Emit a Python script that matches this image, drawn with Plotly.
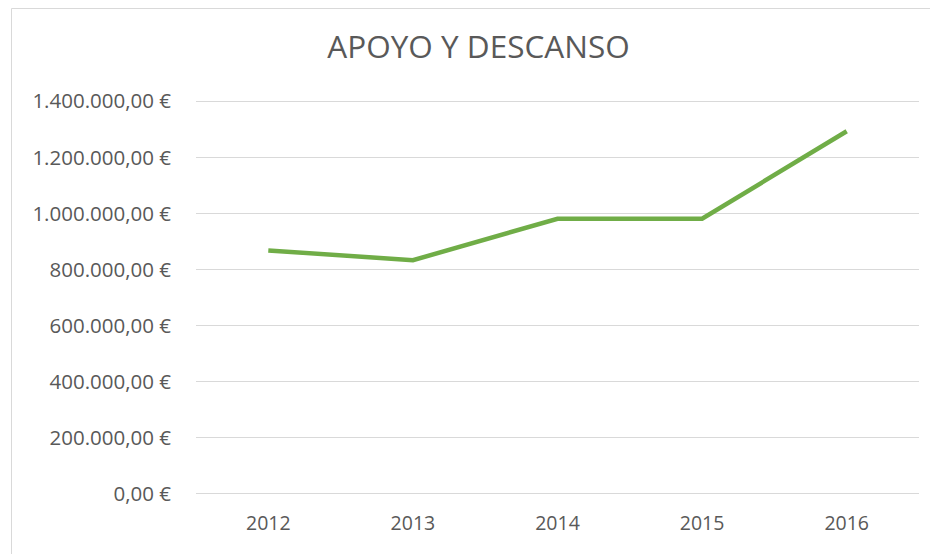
import plotly.graph_objects as go

years = ["2012", "2013", "2014", "2015", "2016"]
values = [868000, 833000, 981000, 981000, 1293000]
ytick_vals = [0, 200000, 400000, 600000, 800000, 1000000, 1200000, 1400000]
ytick_text = ["0,00 €", "200.000,00 €", "400.000,00 €", "600.000,00 €",
              "800.000,00 €", "1.000.000,00 €", "1.200.000,00 €", "1.400.000,00 €"]
title_text = "APOYO Y DESCANSO"

L, R, T, B = 188, 27, 91, 66
W, H = 938, 554
PW = W - L - R
PH = H - T - B

fig = go.Figure()
fig.add_trace(go.Scatter(
    x=list(range(len(years))), y=values, mode="lines",
    line=dict(color="#70AD47", width=4.5), showlegend=False,
    hoverinfo="skip",
))

fig.update_layout(
    width=W, height=H,
    margin=dict(l=L, r=R, t=T, b=B),
    paper_bgcolor="white", plot_bgcolor="white",
    font=dict(family="Open Sans", color="#595959"),
    title=dict(text=title_text, x=470.5 / W, xanchor="center", y=1 - 39 / H, yanchor="middle",
               font=dict(family="Open Sans", size=31.5, color="#595959")),
    xaxis=dict(range=[-0.5, 4.5], tickvals=list(range(len(years))), ticktext=years,
               showgrid=False, zeroline=False, showline=False,
               tickfont=dict(size=19.5, color="#595959"), ticklabelstandoff=13,
               fixedrange=True),
    yaxis=dict(range=[-8000, 1408000], tickvals=ytick_vals, ticktext=ytick_text,
               showgrid=True, gridcolor="#D9D9D9", gridwidth=1.3,
               zeroline=True, zerolinecolor="#D9D9D9", zerolinewidth=1.3,
               showline=False, tickfont=dict(size=20.5, color="#595959"),
               ticklabelstandoff=24, fixedrange=True),
    shapes=[dict(type="rect", xref="paper", yref="paper",
                 x0=(3.5 - L) / PW, x1=(W + 20 - L) / PW,
                 y0=-(H + 20 - (H - B)) / PH, y1=(H - B - 0.5) / PH,
                 line=dict(color="#D9D9D9", width=1), fillcolor="rgba(0,0,0,0)", layer="below")],
)

fig.write_html("out.html")
